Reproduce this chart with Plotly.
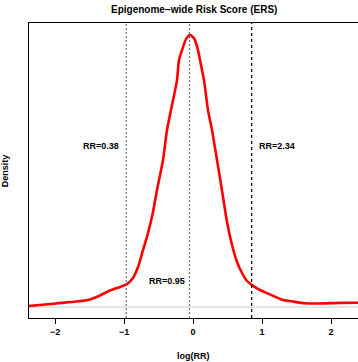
import plotly.graph_objects as go
import math

# density curve (x = log(RR), y = density)
log_rr = [-2.377, -1.986, -1.522, -1.348, -1.203, -1.058, -0.957, -0.870, -0.797, -0.725,
          -0.652, -0.580, -0.522, -0.435, -0.377, -0.319, -0.232, -0.203, -0.159, -0.101,
          -0.043, 0.014, 0.072, 0.101, 0.159, 0.217, 0.275, 0.348, 0.435, 0.493,
          0.565, 0.638, 0.710, 0.783, 0.855, 0.971, 1.072, 1.304, 1.406, 1.623,
          1.841, 2.130, 2.391]
density = [0.006, 0.021, 0.041, 0.068, 0.097, 0.118, 0.135, 0.171, 0.235, 0.335,
           0.435, 0.559, 0.688, 0.865, 1.041, 1.159, 1.335, 1.453, 1.512, 1.576,
           1.600, 1.582, 1.512, 1.453, 1.335, 1.159, 1.041, 0.865, 0.647, 0.500,
           0.365, 0.265, 0.200, 0.153, 0.129, 0.100, 0.082, 0.041, 0.035, 0.022,
           0.021, 0.024, 0.025]

rr_values = [0.38, 0.95, 2.34]
rr_labels = ["RR=0.38", "RR=0.95", "RR=2.34"]
tick_vals = [-2, -1, 0, 1, 2]

rr_logs = [math.log(v) for v in rr_values]

FONT = "Liberation Sans, Arial, sans-serif"
TXT = dict(size=9, color="black", family=FONT, weight="bold")

fig = go.Figure()
fig.add_trace(go.Scatter(x=log_rr, y=density, mode="lines",
                         line=dict(color="#ff0000", width=2.6, shape="spline", smoothing=0.6),
                         hoverinfo="skip", showlegend=False))

shapes = []
# baseline at density 0
shapes.append(dict(type="line", xref="paper", x0=0, x1=1, yref="y", y0=0, y1=0,
                   line=dict(color="#cccccc", width=1), layer="below"))
line_styles = [("#6e6e6e", "2px,2px"), ("#6e6e6e", "2px,2px"), ("#000000", "3px,3px")]
for lx, (col, dsh) in zip(rr_logs, line_styles):
    shapes.append(dict(type="line", xref="x", x0=lx, x1=lx, yref="paper", y0=0, y1=1,
                       line=dict(color=col, width=1.2, dash=dsh)))

annotations = [
    dict(x=rr_logs[0] - 0.08, y=0.95, xref="x", yref="y", text=rr_labels[0], showarrow=False,
         xanchor="right", yanchor="middle", font=TXT),
    dict(x=rr_logs[1] - 0.03, y=0.155, xref="x", yref="y", text=rr_labels[1], showarrow=False,
         xanchor="right", yanchor="middle", font=TXT),
    dict(x=rr_logs[2] + 0.08, y=0.95, xref="x", yref="y", text=rr_labels[2], showarrow=False,
         xanchor="left", yanchor="middle", font=TXT),
    dict(x=0.5, y=-0.13, xref="paper", yref="paper", text="log(RR)", showarrow=False,
         xanchor="center", yanchor="middle", font=TXT),
    dict(x=-0.074, y=0.5, xref="paper", yref="paper", text="Density", showarrow=False, textangle=-90,
         xanchor="center", yanchor="middle", font=TXT),
    dict(x=0.5, y=1.0 + 13.5 / 295, xref="paper", yref="paper", text="<b>Epigenome\u2212wide Risk Score (ERS)</b>",
         showarrow=False, xanchor="center", yanchor="middle", font=dict(size=10, color="black", family=FONT)),
]

fig.update_layout(
    width=358, height=362,
    margin=dict(l=29, r=0, t=23, b=44, autoexpand=False),
    paper_bgcolor="white", plot_bgcolor="white",
    shapes=shapes, annotations=annotations,
    font=dict(family=FONT, size=9, color="black"),
    xaxis=dict(range=[-2.377, 2.391], tickvals=tick_vals, ticks="outside", ticklen=5,
               tickcolor="black", showgrid=False, zeroline=False, showline=True,
               linecolor="black", linewidth=1, mirror=True, automargin=False,
               tickfont=TXT),
    yaxis=dict(range=[-0.0647, 1.671], showticklabels=False, ticks="", showgrid=False,
               zeroline=False, showline=True, linecolor="black", linewidth=1, mirror=True,
               automargin=False),
)

fig.write_html("out.html", config={"displayModeBar": False},
               post_script="document.body.style.margin='0';document.body.style.padding='0';"
                           "document.body.style.overflow='hidden';")
